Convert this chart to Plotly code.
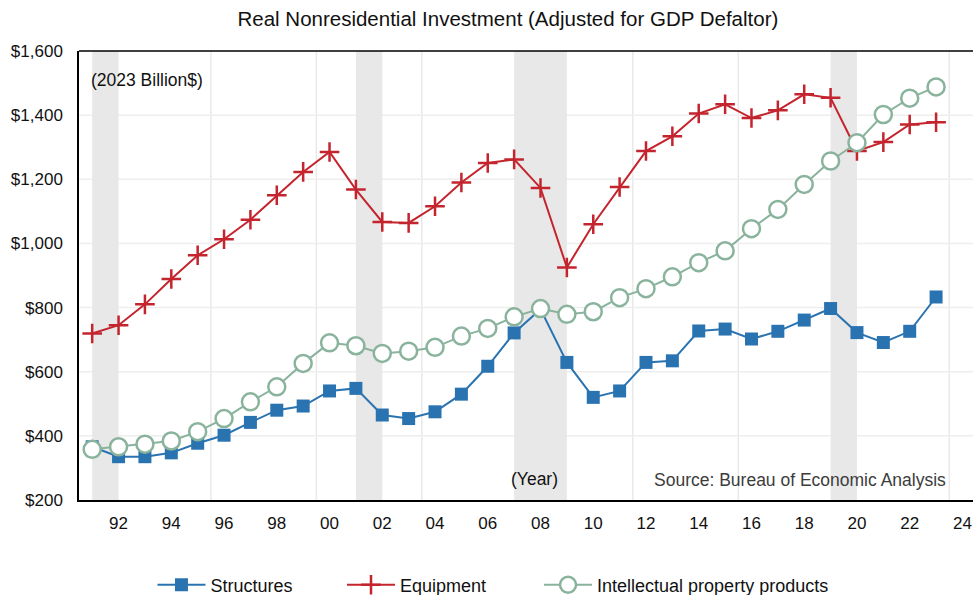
import plotly.graph_objects as go

# Annual data, 2023 billion dollars
years = list(range(1991, 2024))
structures = [366, 335, 335, 347, 377, 402, 442, 480, 493, 540, 548, 465, 454, 475, 530,
              617, 721, 795, 629, 520, 540, 629, 634, 727, 733, 702, 726, 761, 797, 722,
              691, 726, 833]
equipment = [719, 745, 810, 889, 963, 1013, 1074, 1150, 1223, 1285, 1168, 1067, 1064, 1116,
             1190, 1251, 1262, 1173, 925, 1060, 1176, 1288, 1334, 1405, 1434, 1391, 1415,
             1465, 1454, 1288, 1316, 1371, 1378]
ipp = [358, 366, 374, 384, 413, 454, 506, 553, 626, 690, 681, 657, 664, 676, 711, 735, 771,
       797, 779, 787, 831, 859, 896, 940, 977, 1046, 1106, 1184, 1257, 1314, 1402, 1453, 1488]

# recession periods shown as grey bands
recessions = [(1991, 1992), (2001, 2002), (2007, 2009), (2019, 2020)]

tick_years = list(range(1992, 2025, 2))
tick_labels = [f"{y % 100:02d}" for y in tick_years]
grid_years = [1995.5, 1999.5, 2003.5, 2007.5, 2011.5, 2015.5, 2019.5, 2023.5]
y_ticks = [200, 400, 600, 800, 1000, 1200, 1400, 1600]
y_labels = [f"${v:,}" for v in y_ticks]

FONT = "Liberation Sans, Arial, Helvetica, sans-serif"

fig = go.Figure()

fig.add_trace(go.Scatter(
    x=years, y=structures, name="Structures", mode="lines+markers", legend="legend",
    line=dict(color="#2a73b1", width=2),
    marker=dict(symbol="square", size=13, color="#2a73b1"),
))
fig.add_trace(go.Scatter(
    x=years, y=equipment, name="Equipment", mode="lines+markers", legend="legend2",
    line=dict(color="#c4242e", width=2),
    marker=dict(symbol="cross-thin", size=14, color="#c4242e",
                line=dict(color="#c4242e", width=2.5)),
))
fig.add_trace(go.Scatter(
    x=years, y=ipp, name="Intellectual property products", mode="lines+markers",
    legend="legend3",
    line=dict(color="#8ab39d", width=2),
    marker=dict(symbol="circle", size=17, color="white",
                line=dict(color="#8ab39d", width=2.5)),
))

# grid lines drawn as shapes so the recession bands can cover them
for g in grid_years:
    fig.add_vline(x=g, line=dict(color="#e9e9e9", width=1.5), layer="below")
for v in y_ticks[1:-1]:
    fig.add_hline(y=v, line=dict(color="#eeeeee", width=1.5), layer="below")
for start, end in recessions:
    fig.add_vrect(x0=start, x1=end, fillcolor="#e8e8e8", opacity=1, line_width=0,
                  layer="below")
# top frame line
fig.add_shape(type="line", xref="paper", yref="paper", x0=0, x1=1, y0=1, y1=1,
              line=dict(color="black", width=1.5))

fig.add_annotation(text="(2023 Billion$)", xref="paper", yref="paper", x=0.011, y=0.935,
                   xanchor="left", yanchor="middle", showarrow=False,
                   font=dict(size=17.5, color="#111"))
fig.add_annotation(text="(Year)", xref="paper", yref="paper", x=0.5095, y=0.047,
                   xanchor="center", yanchor="middle", showarrow=False,
                   font=dict(size=17.5, color="#111"))
fig.add_annotation(text="Source: Bureau of Economic Analysis", xref="paper", yref="paper",
                   x=0.972, y=0.045, xanchor="right", yanchor="middle", showarrow=False,
                   font=dict(size=17.5, color="#3c3c3c"))

legend_style = dict(orientation="h", xref="container", xanchor="left",
                    yref="container", y=0.0168, yanchor="middle",
                    font=dict(size=18), itemwidth=48, bgcolor="rgba(0,0,0,0)")

fig.update_layout(
    width=973, height=595,
    margin=dict(l=79, r=0, t=51, b=95),
    paper_bgcolor="white", plot_bgcolor="white",
    font=dict(family=FONT, size=17, color="#111"),
    title=dict(text="Real Nonresidential Investment (Adjusted for GDP Defaltor)",
               x=0.522, xanchor="center", y=0.968, yanchor="middle",
               font=dict(size=20.5, color="#111")),
    showlegend=True,
    legend=dict(x=0.1567, **legend_style),
    legend2=dict(x=0.3515, **legend_style),
    legend3=dict(x=0.554, **legend_style),
    xaxis=dict(range=[1990.5, 2024.4], tickvals=tick_years, ticktext=tick_labels,
               showgrid=False, zeroline=False, showline=True, linecolor="black",
               linewidth=1.5, ticks="", ticklabelstandoff=7, ticklabeloverflow="allow"),
    yaxis=dict(range=[200, 1600], tickvals=y_ticks, ticktext=y_labels,
               showgrid=False, zeroline=False,
               showline=True, linecolor="black", linewidth=1.5, ticks="",
               ticklabelstandoff=11),
)

# drop the browser's default page margin so the figure fills the window
fig.write_html("out.html", config={"displayModeBar": False},
               post_script="document.body.style.margin='0';")
